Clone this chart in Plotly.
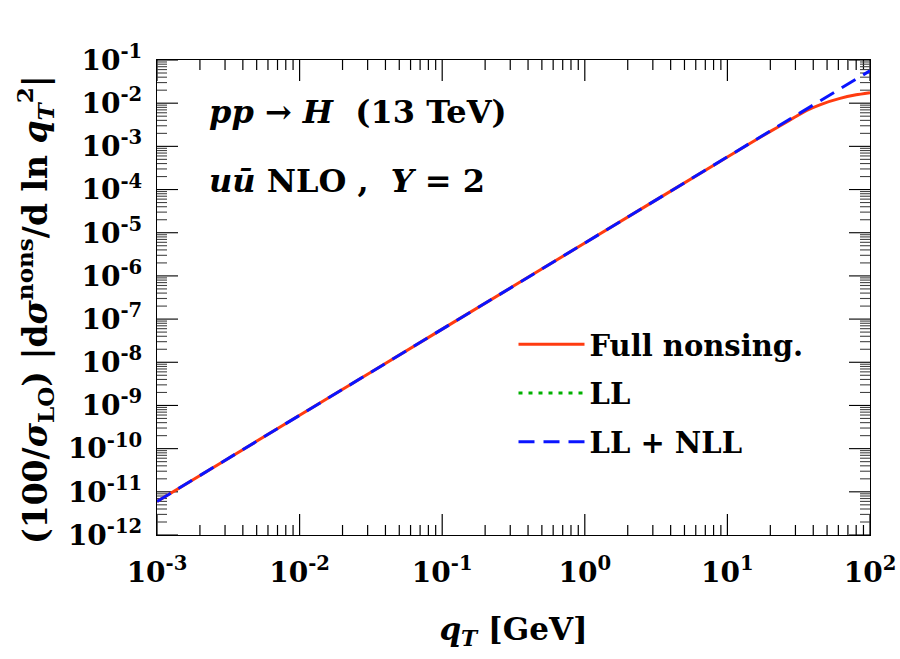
import plotly.graph_objects as go

# Data
qt_line = [1e-3, 1e-2, 1e-1, 1e0, 1e1, 1e2]
ll_nll = [5.98e-12, 5.92e-10, 5.85e-8, 5.78e-6, 5.71e-4, 5.65e-2]
ll = [0.0, 0.0, 0.0, 0.0, 0.0, 0.0]  # LL term vanishes for this channel (not visible)
qt_full = [1e-3, 1e-2, 1e-1, 1e0, 1e1, 1.6e1, 2e1, 2.5e1, 3e1, 3.6e1, 4.5e1, 6.16e1, 8e1, 1e2]
full = [5.98e-12, 5.92e-10, 5.85e-8, 5.78e-6, 5.68e-4, 1.44e-3, 2.22e-3, 3.4e-3, 4.85e-3, 6.8e-3,
        9.3e-3, 1.29e-2, 1.56e-2, 1.75e-2]

x_tickvals = [1e-3, 1e-2, 1e-1, 1e0, 1e1, 1e2]
x_ticktext = ["<b>10<sup>-3</sup></b>", "<b>10<sup>-2</sup></b>", "<b>10<sup>-1</sup></b>",
              "<b>10<sup>0</sup></b>", "<b>10<sup>1</sup></b>", "<b>10<sup>2</sup></b>"]
y_exps = [-12, -11, -10, -9, -8, -7, -6, -5, -4, -3, -2, -1]
y_tickvals = [10.0 ** e for e in y_exps]
y_ticktext = ["<b>10<sup>%d</sup></b>" % e for e in y_exps]
x_minor = [m * 10.0 ** e for e in range(-3, 2) for m in range(2, 10)]
y_minor = [m * 10.0 ** e for e in range(-12, -1) for m in range(2, 10)]

X_RANGE = [-3, 2]
Y_RANGE = [-12, -1]

FONT = "DejaVu Serif"
RED = "#FF3B10"
GREEN = "#00B000"
BLUE = "#0A14FF"

PLOT_W, PLOT_H = 713.0, 475.0
MAJ, MIN = 21.0, 10.0

fig = go.Figure()


def x_tick_segments(vals, length_px):
    d = length_px / PLOT_H * (Y_RANGE[1] - Y_RANGE[0])
    xs, ys = [], []
    for v in vals:
        xs += [v, v, None, v, v, None]
        ys += [10.0 ** Y_RANGE[0], 10.0 ** (Y_RANGE[0] + d), None,
               10.0 ** Y_RANGE[1], 10.0 ** (Y_RANGE[1] - d), None]
    return xs, ys


def y_tick_segments(vals, length_px):
    d = length_px / PLOT_W * (X_RANGE[1] - X_RANGE[0])
    xs, ys = [], []
    for v in vals:
        xs += [10.0 ** X_RANGE[0], 10.0 ** (X_RANGE[0] + d), None,
               10.0 ** X_RANGE[1], 10.0 ** (X_RANGE[1] - d), None]
        ys += [v, v, None, v, v, None]
    return xs, ys


# tick marks (inside, mirrored on all four sides)
for vals, ln, col in ((x_tickvals, MAJ, "black"), (x_minor, MIN, "black")):
    tx, ty = x_tick_segments(vals, ln)
    fig.add_trace(go.Scatter(x=tx, y=ty, mode="lines", showlegend=False, hoverinfo="skip",
                             line=dict(color=col, width=1.2)))
for vals, ln, col in ((y_tickvals, MAJ, "black"), (y_minor, MIN, "#444")):
    tx, ty = y_tick_segments(vals, ln)
    fig.add_trace(go.Scatter(x=tx, y=ty, mode="lines", showlegend=False, hoverinfo="skip",
                             line=dict(color=col, width=1.1)))

fig.add_trace(go.Scatter(x=qt_line, y=ll, mode="lines", name="<b>LL</b>", legendrank=2, legendgroup="b",
                         line=dict(color=GREEN, width=3, dash="4px,6px")))
fig.add_trace(go.Scatter(x=qt_full, y=full, mode="lines", name="<b>Full nonsing.</b>", legendrank=1, legendgroup="a",
                         line=dict(color=RED, width=3, shape="spline", smoothing=0.5)))
fig.add_trace(go.Scatter(x=qt_line, y=ll_nll, mode="lines", name="<b>LL + NLL</b>", legendrank=3, legendgroup="c",
                         line=dict(color=BLUE, width=3, dash="16px,9px")))

tickfont = dict(family=FONT, size=28, color="black", weight="bold")

fig.update_layout(
    template="simple_white",
    width=900, height=659, margin=dict(l=157, r=30, t=60, b=124),
    xaxis=dict(type="log", range=X_RANGE, tickmode="array", tickvals=x_tickvals, ticktext=x_ticktext,
               ticks="", ticklabelstandoff=12, tickfont=tickfont,
               showline=True, linecolor="black", linewidth=1.3, mirror=True, showgrid=False,
               zeroline=False, automargin=False,
               title=dict(text="<b><i>q</i><sub><i>T</i></sub> [GeV]</b>",
                          font=dict(family=FONT, size=31, color="black"), standoff=30)),
    yaxis=dict(type="log", range=Y_RANGE, tickmode="array", tickvals=y_tickvals, ticktext=y_ticktext,
               ticks="", ticklabelstandoff=8, tickfont=tickfont,
               showline=True, linecolor="black", linewidth=1.3, mirror=True, showgrid=False,
               zeroline=False, automargin=False),
    legend=dict(x=0.50, y=0.455, xanchor="left", yanchor="top", bgcolor="rgba(0,0,0,0)",
                font=dict(family=FONT, size=29, color="black"), itemwidth=66,
                traceorder="grouped", tracegroupgap=8),
    showlegend=True,
)

fig.add_annotation(x=-0.171, y=0.474, xref="paper", yref="paper", xanchor="center", yanchor="middle",
                   showarrow=False, textangle=-90,
                   text="<b>(100/<i>σ</i><sub>LO</sub>) |d<i>σ</i><sup>nons</sup>/d ln <i>q</i><sub><i>T</i></sub><sup>2</sup>|</b>",
                   font=dict(family=FONT, size=33, color="black"))
fig.add_annotation(x=0.07, y=0.89, xref="paper", yref="paper", xanchor="left", yanchor="middle", showarrow=False,
                   text="<b><i>pp</i> → <i>H</i>&nbsp; (13 TeV)</b>", font=dict(family=FONT, size=32, color="black"))
fig.add_annotation(x=0.07, y=0.745, xref="paper", yref="paper", xanchor="left", yanchor="middle", showarrow=False,
                   text="<b><i>uū</i> NLO&nbsp;,&nbsp; <i>Y</i> = 2</b>", font=dict(family=FONT, size=32, color="black"))

fig.write_html("out.html")
